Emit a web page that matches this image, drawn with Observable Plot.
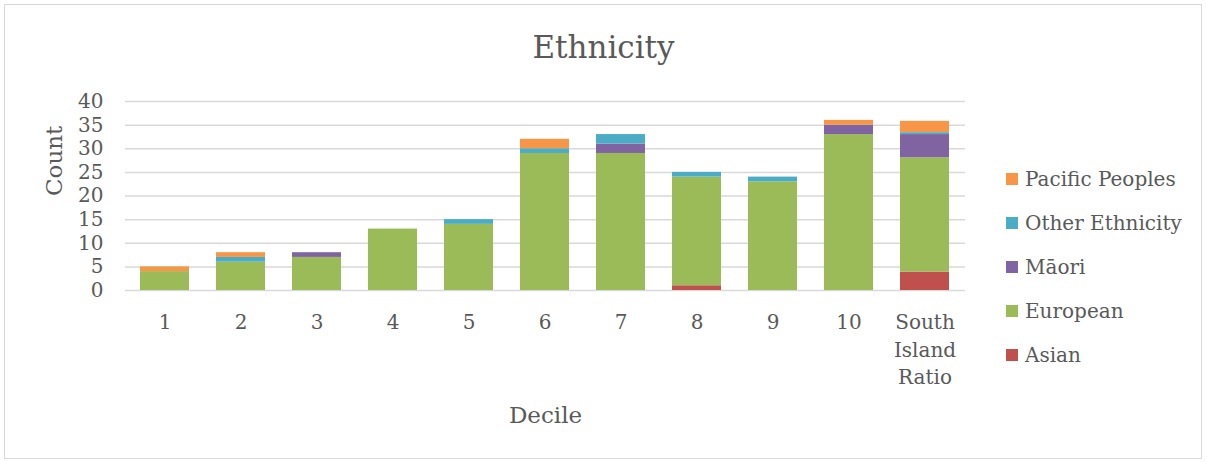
<!DOCTYPE html>
<html>
<head>
<meta charset="utf-8">
<script src="https://cdn.jsdelivr.net/npm/d3@7"></script>
<script src="https://cdn.jsdelivr.net/npm/@observablehq/plot@0.6"></script>
<style>
  html, body { margin: 0; padding: 0; background: #fff; }
  #wrap { position: relative; width: 1207px; height: 462px; overflow: hidden;
          font-family: "DejaVu Serif", serif; color: #595959; }
  #frame { position: absolute; left: 4px; top: 4px; width: 1198px; height: 455px;
           border: 1px solid #d9d9d9; box-sizing: border-box; }
  #chart { position: absolute; left: 0; top: 0; }
  #title { position: absolute; left: 0; width: 1207px; top: 29px; text-align: center;
           font-size: 31px; line-height: 36px; }
  #legend { position: absolute; left: 1006px; top: 157px; font-size: 20px; }
  .item { display: flex; align-items: center; height: 44px; }
  .sw { width: 12px; height: 12px; margin-right: 7px; flex: none; }
</style>
</head>
<body>
<div id="wrap">
  <div id="frame"></div>
  <div id="title">Ethnicity</div>
  <div id="chart"></div>
  <div id="legend"></div>
</div>
<script>
// Categories along the x axis
const deciles = ["1", "2", "3", "4", "5", "6", "7", "8", "9", "10", "South Island Ratio"];

// Counts per ethnicity, one value per category above
const asian    = [0, 0, 0, 0, 0, 0, 0, 1, 0, 0, 3.9];
const european = [4, 6, 7, 13, 14, 29, 29, 23, 23, 33, 24.2];
const maori    = [0, 0, 1, 0, 0, 0, 2, 0, 0, 2, 4.9];
const other    = [0, 1, 0, 0, 1, 1, 2, 1, 1, 0, 0.4];
const pacific  = [1, 1, 0, 0, 0, 2, 0, 0, 0, 1, 2.4];

// Series in stacking order (bottom to top) and their colours
const seriesNames  = ["Asian", "European", "Māori", "Other Ethnicity", "Pacific Peoples"];
const seriesValues = [asian, european, maori, other, pacific];
const seriesColors = ["#C0504D", "#9BBB59", "#8064A2", "#4BACC6", "#F79646"];

const yTicks = [0, 5, 10, 15, 20, 25, 30, 35, 40];

const rows = [];
seriesNames.forEach((name, s) => {
  deciles.forEach((d, i) => rows.push({decile: d, ethnicity: name, count: seriesValues[s][i]}));
});

const ink = "#595959";
const chart = Plot.plot({
  width: 1207,
  height: 462,
  marginLeft: 125,
  marginRight: 242,
  marginTop: 101,
  marginBottom: 172,
  style: {fontFamily: "DejaVu Serif, serif", fontSize: "20px", color: ink, background: "transparent"},
  x: {domain: deciles, paddingInner: 0.355, paddingOuter: 0.1775, label: null},
  y: {domain: [0, 40], label: null},
  color: {domain: seriesNames, range: seriesColors},
  marks: [
    Plot.gridY(yTicks, {stroke: "#d9d9d9", strokeOpacity: 1, strokeWidth: 1.5}),
    Plot.barY(rows, Plot.stackY({order: seriesNames}, {
      x: "decile", y: "count", fill: "ethnicity", z: "ethnicity"
    })),
    Plot.axisY({ticks: yTicks, tickSize: 0, tickPadding: 22, fontSize: 20, fill: ink, label: null}),
    Plot.axisX({
      tickSize: 0, tickPadding: 19, fontSize: 20, fill: ink, label: null, lineHeight: 1.38,
      tickFormat: d => d === "South Island Ratio" ? "South\nIsland\nRatio" : d
    }),
    Plot.text(["Count"], {frameAnchor: "left", dx: -71, rotate: -90, fontSize: 23, fill: ink, text: d => d}),
    Plot.text(["Decile"], {frameAnchor: "bottom", dy: 132, fontSize: 23, fill: ink, text: d => d})
  ]
});
document.getElementById("chart").appendChild(chart);

// Legend, listed top to bottom in reverse stacking order
const legend = document.getElementById("legend");
for (let s = seriesNames.length - 1; s >= 0; s--) {
  const item = document.createElement("div");
  item.className = "item";
  const sw = document.createElement("span");
  sw.className = "sw";
  sw.style.background = seriesColors[s];
  const label = document.createElement("span");
  label.textContent = seriesNames[s];
  item.appendChild(sw);
  item.appendChild(label);
  legend.appendChild(item);
}
</script>
</body>
</html>
